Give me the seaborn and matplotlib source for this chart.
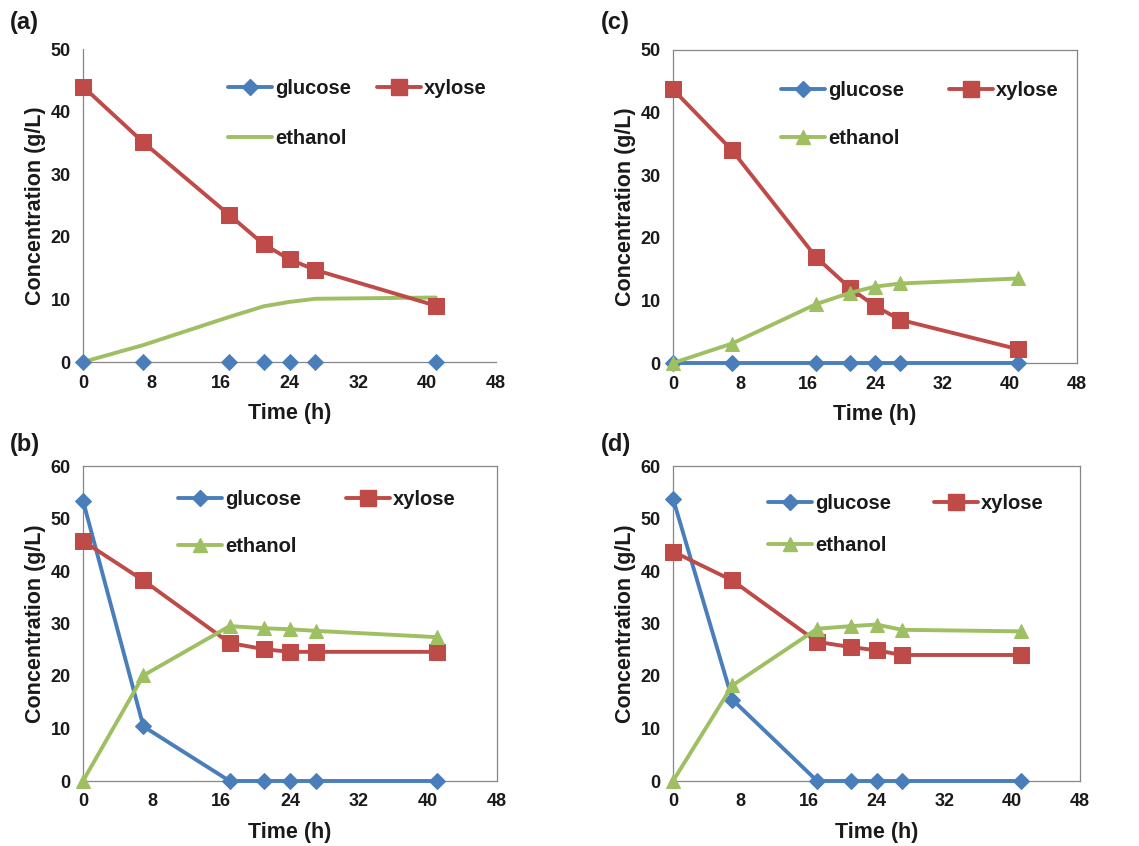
import matplotlib
matplotlib.use("Agg")
import matplotlib.pyplot as plt
from matplotlib.lines import Line2D
import seaborn as sns

sns.set_style("white")
plt.rcParams['font.family'] = ['Liberation Sans', 'DejaVu Sans']
plt.rcParams['font.weight'] = 'bold'

# ---------------- data ----------------
time_h = [0, 7, 17, 21, 24, 27, 41]

a_glucose = [0, 0, 0, 0, 0, 0, 0]
a_xylose = [44.0, 35.1, 23.5, 18.8, 16.4, 14.7, 9.0]
a_ethanol = [0, 2.7, 7.2, 8.9, 9.6, 10.1, 10.3]

c_glucose = [0, 0, 0, 0, 0, 0, 0]
c_xylose = [43.7, 34.0, 16.9, 12.0, 9.1, 6.9, 2.2]
c_ethanol = [0, 3.1, 9.4, 11.2, 12.2, 12.7, 13.5]

b_glucose = [53.4, 10.4, 0, 0, 0, 0, 0]
b_xylose = [45.7, 38.2, 26.3, 25.1, 24.6, 24.6, 24.6]
b_ethanol = [0, 20.1, 29.5, 29.1, 28.9, 28.6, 27.4]

d_glucose = [53.8, 15.5, 0, 0, 0, 0, 0]
d_xylose = [43.7, 38.2, 26.5, 25.5, 24.9, 24.0, 24.0]
d_ethanol = [0, 18.2, 29.0, 29.5, 29.8, 28.8, 28.5]

series_names = ["glucose", "xylose", "ethanol"]
x_ticks = [0, 8, 16, 24, 32, 40, 48]
y_label = "Concentration (g/L)"
x_label = "Time (h)"

# ---------------- styling ----------------
C_BLUE = "#4A7EBB"
C_RED = "#BE4B48"
C_GREEN = "#9EBF62"
SPINE = "#868686"
TXT = "#1a1a1a"

W, H = 1139, 846
fig = plt.figure(figsize=(W / 100, H / 100), dpi=100)


def rect(l, r, t, b):
    return [l / W, 1 - b / H, (r - l) / W, (b - t) / H]


# (left, right, top, bottom) in pixels
panels = [
    dict(name="(a)", box=(83, 496, 49, 362), ymax=50, data=(a_glucose, a_xylose, a_ethanol),
         frame=False, style="a", leg=(228, 79), colsp=1.25, ls=1.55, lab=(10, 22)),
    dict(name="(c)", box=(673, 1077, 50, 363), ymax=50, data=(c_glucose, c_xylose, c_ethanol),
         frame=True, style="full", leg=(781, 81), colsp=2.2, ls=1.45, lab=(601, 22)),
    dict(name="(b)", box=(83, 497, 466, 781), ymax=60, data=(b_glucose, b_xylose, b_ethanol),
         frame=True, style="full", leg=(178, 490), colsp=2.2, ls=1.4, lab=(10, 444)),
    dict(name="(d)", box=(673, 1080, 466, 781), ymax=60, data=(d_glucose, d_xylose, d_ethanol),
         frame=True, style="full", leg=(768, 494), colsp=2.1, ls=1.15, lab=(601, 444)),
]

LW = 2.8
MS_D, MS_S, MS_T = 8.3, 11, 10.5
for p in panels:
    l, r, t, b = p["box"]
    ax = fig.add_axes(rect(l, r, t, b))
    glu, xyl, eth = p["data"]
    if p["style"] == "a":
        sns.scatterplot(x=time_h, y=glu, ax=ax, marker="D", s=MS_D ** 2, color=C_BLUE,
                        edgecolor=C_BLUE, linewidth=0.5, zorder=4, clip_on=False, legend=False)
        sns.lineplot(x=time_h, y=xyl, ax=ax, color=C_RED, linewidth=LW, marker="s",
                     markersize=MS_S, markeredgecolor=C_RED, zorder=3, clip_on=False, legend=False)
        sns.lineplot(x=time_h, y=eth, ax=ax, color=C_GREEN, linewidth=LW, zorder=2,
                     clip_on=False, legend=False)
        handles = [
            Line2D([], [], color=C_BLUE, lw=LW, marker="D", markersize=MS_D, markeredgecolor=C_BLUE),
            Line2D([], [], color=C_GREEN, lw=LW),
            Line2D([], [], color=C_RED, lw=LW, marker="s", markersize=MS_S, markeredgecolor=C_RED),
        ]
    else:
        sns.lineplot(x=time_h, y=glu, ax=ax, color=C_BLUE, linewidth=LW, marker="D",
                     markersize=MS_D, markeredgecolor=C_BLUE, zorder=3, clip_on=False, legend=False)
        sns.lineplot(x=time_h, y=xyl, ax=ax, color=C_RED, linewidth=LW, marker="s",
                     markersize=MS_S, markeredgecolor=C_RED, zorder=4, clip_on=False, legend=False)
        sns.lineplot(x=time_h, y=eth, ax=ax, color=C_GREEN, linewidth=LW, marker="^",
                     markersize=MS_T, markeredgecolor=C_GREEN, zorder=5, clip_on=False, legend=False)
        handles = [
            Line2D([], [], color=C_BLUE, lw=LW, marker="D", markersize=MS_D, markeredgecolor=C_BLUE),
            Line2D([], [], color=C_GREEN, lw=LW, marker="^", markersize=MS_T, markeredgecolor=C_GREEN),
            Line2D([], [], color=C_RED, lw=LW, marker="s", markersize=MS_S, markeredgecolor=C_RED),
        ]
    labels = [series_names[0], series_names[2], series_names[1]]

    ax.set_xlim(0, 48)
    ax.set_ylim(0, p["ymax"])
    ax.set_xticks(x_ticks)
    ax.set_yticks(list(range(0, p["ymax"] + 1, 10)))
    ax.tick_params(axis="both", direction="out", length=4, width=0.8, color=SPINE,
                   labelsize=13, labelcolor=TXT, pad=5)
    for lbl in ax.get_xticklabels() + ax.get_yticklabels():
        lbl.set_fontweight("bold")
    for side, sp in ax.spines.items():
        sp.set_color(SPINE)
        sp.set_linewidth(0.9)
        sp.set_zorder(1)
        if side in ("top", "right"):
            sp.set_visible(p["frame"])
    ax.set_facecolor("white")
    ax.set_xlabel(x_label, fontsize=15.5, fontweight="bold", color=TXT, labelpad=8)
    ax.set_ylabel(y_label, fontsize=15.5, fontweight="bold", color=TXT, labelpad=3)

    lx, ly = p["leg"]
    ax.legend(handles, labels, ncol=2, frameon=False, prop={"size": 14.5, "weight": "bold"},
              loc="upper left", bbox_to_anchor=(lx / W, 1 - ly / H), bbox_transform=fig.transFigure,
              borderpad=0, borderaxespad=0, handlelength=2.2, handletextpad=0.15,
              labelspacing=p["ls"], columnspacing=p["colsp"], labelcolor=TXT)

    tx, ty = p["lab"]
    fig.text(tx / W, 1 - ty / H, p["name"], fontsize=17, fontweight="bold", color=TXT,
             ha="left", va="center")

fig.savefig("out.png", dpi=100, facecolor="white")
